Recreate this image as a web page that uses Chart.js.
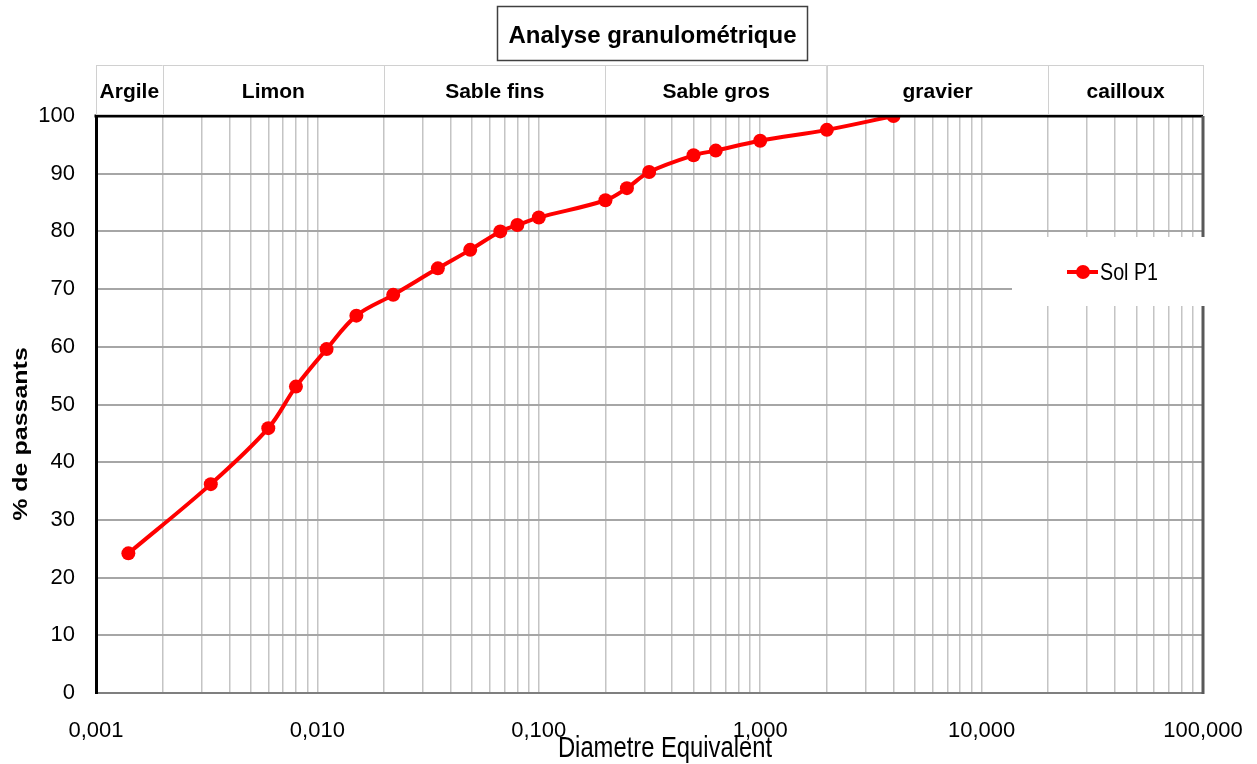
<!DOCTYPE html>
<html>
<head>
<meta charset="utf-8">
<title>Analyse granulométrique</title>
<script src="https://cdn.jsdelivr.net/npm/chart.js@4.4.1/dist/chart.umd.min.js"></script>
<style>
  body { margin: 0; background: #ffffff; }
</style>
</head>
<body>
<canvas id="granulo" width="1257" height="764"></canvas>
<script>
// Courbe granulométrique du sol P1
const diameters = [0.0014, 0.0033, 0.006, 0.008, 0.011, 0.015, 0.022, 0.035, 0.049, 0.067,
                   0.08, 0.1, 0.2, 0.25, 0.315, 0.5, 0.63, 1, 2, 4];
const passants  = [24.2, 36.2, 45.9, 53.1, 59.6, 65.4, 69.0, 73.6, 76.8, 80.0,
                   81.1, 82.4, 85.4, 87.5, 90.3, 93.2, 94.0, 95.7, 97.6, 100];

// classes granulométriques (limites en mm)
const classNames  = ['Argile', 'Limon', 'Sable fins', 'Sable gros', 'gravier', 'cailloux'];
const classLimits = [0.001, 0.002, 0.02, 0.2, 2, 20, 100];

// graduations de l'axe des diamètres
const decades      = [0.001, 0.01, 0.1, 1, 10, 100];
const decadeLabels = ['0,001', '0,010', '0,100', '1,000', '10,000', '100,000'];

const xGridValues = [];
for (let i = 0; i < decades.length - 1; i++) {
    for (let k = 1; k <= 9; k++) {
        xGridValues.push(Number((decades[i] * k).toPrecision(3)));
    }
}
xGridValues.push(decades[decades.length - 1]);

const tickFont = '"Liberation Sans", Arial, sans-serif';

function decadeLabel(value) {
    for (let i = 0; i < decades.length; i++) {
        if (Math.abs(value - decades[i]) < decades[i] * 1e-6) return decadeLabels[i];
    }
    return '';
}

const granuloDecor = {
    id: 'granuloDecor',
    afterDraw(chart) {
        const ctx = chart.ctx;
        const area = chart.chartArea;
        const xs = chart.scales.x;
        ctx.save();

        // cadre haut et droit
        ctx.lineWidth = 3;
        ctx.strokeStyle = '#000000';
        ctx.beginPath();
        ctx.moveTo(area.left - 1.5, area.top);
        ctx.lineTo(area.right, area.top);
        ctx.stroke();
        ctx.strokeStyle = '#595959';
        ctx.beginPath();
        ctx.moveTo(area.right, area.top);
        ctx.lineTo(area.right, area.bottom + 1);
        ctx.stroke();

        // bandeau des classes
        ctx.font = 'bold 21px "Liberation Sans", Arial, sans-serif';
        ctx.textAlign = 'center';
        ctx.textBaseline = 'alphabetic';
        for (let i = 0; i < classNames.length; i++) {
            const x0 = xs.getPixelForValue(classLimits[i]);
            const x1 = xs.getPixelForValue(classLimits[i + 1]);
            ctx.fillStyle = '#ffffff';
            ctx.fillRect(x0, 65, x1 - x0, area.top - 66.5);
            ctx.strokeStyle = '#d0d0d0';
            ctx.lineWidth = 1;
            ctx.strokeRect(Math.round(x0) + 0.5, 65.5, Math.round(x1 - x0), area.top - 67);
            ctx.fillStyle = '#000000';
            ctx.fillText(classNames[i], (x0 + x1) / 2, 97.5);
        }

        // titre
        ctx.fillStyle = '#ffffff';
        ctx.fillRect(497, 6, 311, 55);
        ctx.strokeStyle = '#404040';
        ctx.lineWidth = 1.5;
        ctx.strokeRect(497.5, 6.5, 310, 54);
        ctx.fillStyle = '#000000';
        ctx.font = 'bold 24px "Liberation Sans", Arial, sans-serif';
        ctx.fillText('Analyse granulométrique', 652.5, 43);

        // légende
        const ds = chart.data.datasets[0];
        ctx.fillStyle = '#ffffff';
        ctx.fillRect(1012, 237, 210, 69);
        ctx.strokeStyle = ds.borderColor;
        ctx.lineWidth = 4;
        ctx.beginPath();
        ctx.moveTo(1067, 272);
        ctx.lineTo(1098, 272);
        ctx.stroke();
        ctx.fillStyle = ds.backgroundColor;
        ctx.beginPath();
        ctx.arc(1083, 272, 7, 0, Math.PI * 2);
        ctx.fill();
        ctx.save();
        ctx.translate(1100, 280);
        ctx.scale(0.82, 1);
        ctx.fillStyle = '#000000';
        ctx.textAlign = 'left';
        ctx.font = '24px "Liberation Sans", Arial, sans-serif';
        ctx.fillText(ds.label, 0, 0);
        ctx.restore();

        // titres des axes
        ctx.save();
        ctx.translate(665, 756.5);
        ctx.scale(0.82, 1);
        ctx.fillStyle = '#000000';
        ctx.textAlign = 'center';
        ctx.font = '29px "Liberation Sans", Arial, sans-serif';
        ctx.fillText('Diametre Equivalent', 0, 0);
        ctx.restore();

        ctx.save();
        ctx.translate(21, 434);
        ctx.scale(0.8, 1);
        ctx.rotate(-Math.PI / 2);
        ctx.fillStyle = '#000000';
        ctx.textAlign = 'center';
        ctx.textBaseline = 'middle';
        ctx.font = 'bold 25px "Liberation Sans", Arial, sans-serif';
        ctx.fillText('% de passants', 0, 0);
        ctx.restore();

        ctx.restore();
    }
};

const ctx = document.getElementById('granulo').getContext('2d');
const chart = new Chart(ctx, {
    type: 'line',
    data: {
        datasets: [{
            label: 'Sol P1',
            data: diameters.map((d, i) => ({ x: d, y: passants[i] })),
            borderColor: '#ff0000',
            backgroundColor: '#ff0000',
            borderWidth: 4,
            pointRadius: 7,
            pointHoverRadius: 7,
            pointBorderWidth: 0,
            tension: 0.35,
            fill: false
        }]
    },
    options: {
        responsive: false,
        animation: false,
        layout: {
            padding: { top: 116, right: 54, left: 0, bottom: 0 }
        },
        scales: {
            x: {
                type: 'logarithmic',
                min: 0.001,
                max: 100,
                afterBuildTicks(scale) {
                    scale.ticks = xGridValues.map(v => ({ value: v }));
                },
                afterFit(scale) {
                    scale.height = 71;
                    scale.paddingLeft = 0;
                    scale.paddingRight = 0;
                },
                ticks: {
                    autoSkip: false,
                    maxRotation: 0,
                    minRotation: 0,
                    padding: 25,
                    color: '#000000',
                    font: { family: tickFont, size: 22 },
                    callback: (value) => decadeLabel(value)
                },
                grid: { color: '#c4c4c4', lineWidth: 1.5, drawTicks: false },
                border: { color: '#7f7f7f', width: 2 }
            },
            y: {
                min: 0,
                max: 100,
                afterFit(scale) {
                    scale.width = 96;
                    scale.paddingTop = 0;
                    scale.paddingBottom = 0;
                },
                ticks: {
                    stepSize: 10,
                    padding: 21,
                    color: '#000000',
                    font: { family: tickFont, size: 22 }
                },
                grid: { color: '#a6a6a6', lineWidth: 2, drawTicks: false },
                border: { color: '#000000', width: 3 }
            }
        },
        plugins: {
            legend: { display: false },
            tooltip: { enabled: false }
        }
    },
    plugins: [granuloDecor]
});
</script>
</body>
</html>
